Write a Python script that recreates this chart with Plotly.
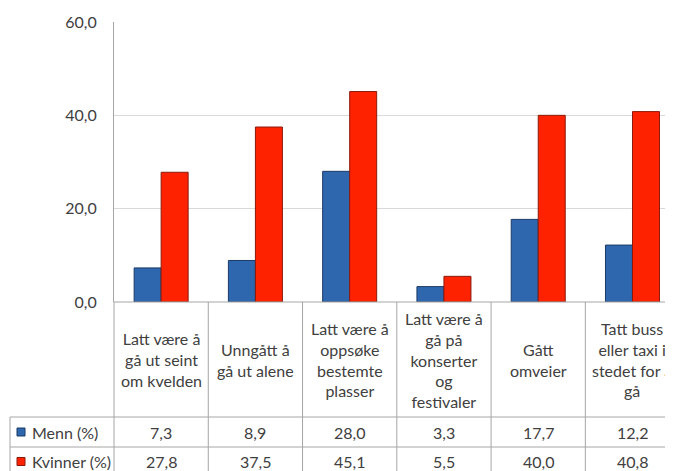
import plotly.graph_objects as go

categories = [
    "Latt være å<br>gå ut seint<br>om kvelden",
    "Unngått å<br>gå ut alene",
    "Latt være å<br>oppsøke<br>bestemte<br>plasser",
    "Latt være å<br>gå på<br>konserter<br>og<br>festivaler",
    "Gått<br>omveier",
    "Tatt buss<br>eller taxi i<br>stedet for å<br>gå",
]
series_names = ["Menn (%)", "Kvinner (%)"]
menn = [7.3, 8.9, 28.0, 3.3, 17.7, 12.2]
kvinner = [27.8, 37.5, 45.1, 5.5, 40.0, 40.8]
y_ticks = [0, 20, 40, 60]

colors = ["#2F67AE", "#FF2200"]
edges = ["#1B3A66", "#8A1A0C"]
font = "Lato"
txt = "#404040"
grid_line = "#A6A6A6"
FS = 16

# page body has an 8px margin; figure coordinates = window coordinates - 8
OFF = 8
W, H = 673, 463
ML, MT = 114 - OFF, 22 - OFF
plot_bottom = 302 - OFF
MB = H - plot_bottom
plot_w = W - ML
plot_h = H - MT - MB
cat_px = 94.27
xr = [-0.5, -0.5 + plot_w / cat_px]


def py(win_y):
    return -((win_y - OFF) - plot_bottom) / plot_h


def pxp(win_x):
    return ((win_x - OFF) - ML) / plot_w


def xpaper(x):
    return (x - xr[0]) / (xr[1] - xr[0])


xs = list(range(len(categories)))
fig = go.Figure()
for name, vals, c, e in zip(series_names, [menn, kvinner], colors, edges):
    fig.add_trace(go.Bar(x=xs, y=vals, name=name, marker=dict(color=c, line=dict(color=e, width=1))))

shapes = []
annotations = []
y_top = py(302)
y_row1 = py(417)
y_row2 = py(447)
y_end = py(476)
y_bot = py(480)
x_left = pxp(10)
lc = dict(color=grid_line, width=1)
shapes.append(dict(type="line", xref="paper", yref="paper", x0=0, x1=1.02, y0=y_top, y1=y_top, line=lc))
for yy in [y_row1, y_row2]:
    shapes.append(dict(type="line", xref="paper", yref="paper", x0=x_left, x1=1.02, y0=yy, y1=yy, line=lc))
shapes.append(dict(type="line", xref="paper", yref="paper", x0=x_left, x1=x_left, y0=y_row1, y1=y_bot, line=lc))
for i in range(len(categories) + 1):
    xp = xpaper(i - 0.5)
    if xp <= 1.0:
        shapes.append(dict(type="line", xref="paper", yref="paper", x0=xp, x1=xp, y0=y_top, y1=y_bot, line=lc))

for i, cat in enumerate(categories):
    annotations.append(dict(x=i, xref="x", y=(y_top + y_row1) / 2, yref="paper", text=cat,
                            showarrow=False, font=dict(family=font, size=FS, color=txt),
                            xanchor="center", yanchor="middle", align="center"))
    for vals, yy0, yy1 in [(menn, y_row1, y_row2), (kvinner, y_row2, y_end)]:
        annotations.append(dict(x=i, xref="x", y=(yy0 + yy1) / 2, yref="paper",
                                text=f"{vals[i]:.1f}".replace(".", ","), showarrow=False,
                                font=dict(family=font, size=FS, color=txt),
                                xanchor="center", yanchor="middle"))

for name, c, e, yy0, yy1 in [(series_names[0], colors[0], edges[0], y_row1, y_row2),
                              (series_names[1], colors[1], edges[1], y_row2, y_end)]:
    yc = (yy0 + yy1) / 2
    sq = 4 / plot_h
    shapes.append(dict(type="rect", xref="paper", yref="paper", x0=pxp(17), x1=pxp(25),
                       y0=yc - sq, y1=yc + sq, fillcolor=c, line=dict(color=e, width=1)))
    annotations.append(dict(x=pxp(30), xref="paper", y=yc, yref="paper", text=name,
                            showarrow=False, font=dict(family=font, size=FS, color=txt),
                            xanchor="left", yanchor="middle"))

fig.update_layout(
    width=W, height=H,
    margin=dict(l=ML, r=0, t=MT, b=MB, pad=0),
    paper_bgcolor="white", plot_bgcolor="white",
    separators=", ",
    barmode="group", bargap=0.427, bargroupgap=0,
    showlegend=False,
    shapes=shapes, annotations=annotations,
    xaxis=dict(range=xr, showticklabels=False, showgrid=False, zeroline=False, showline=False, ticks=""),
    yaxis=dict(range=[0, 60], tickvals=y_ticks, tickformat=".1f", showgrid=True, gridcolor="#D9D9D9",
               zeroline=False, showline=True, linecolor=grid_line, linewidth=1, ticks="",
               ticklabelstandoff=13, tickfont=dict(family=font, size=FS, color=txt)),
)

fig.write_html("out.html")
